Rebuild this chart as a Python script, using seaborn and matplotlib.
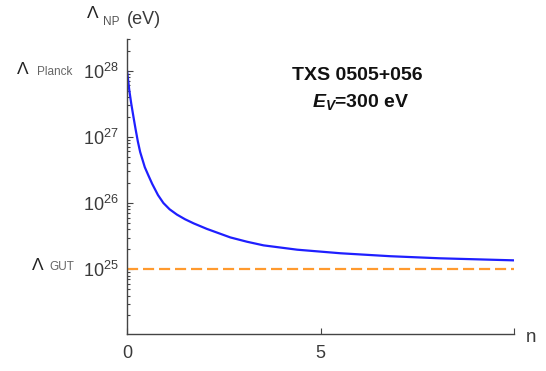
import matplotlib
matplotlib.use("Agg")  # no display in the sandbox

import matplotlib.pyplot as plt
import matplotlib.ticker as mticker
import pandas as pd
import seaborn as sns

# values (n, Lambda_NP in eV)
N_VALUES = [0.0, 0.03, 0.06, 0.11, 0.17, 0.22, 0.28, 0.34, 0.46, 0.55,
            0.65, 0.80, 0.94, 1.10, 1.29, 1.50, 1.72, 2.06, 2.67, 3.10,
            3.53, 4.40, 5.52, 6.81, 8.10, 10.0]
LAMBDA_NP = [1.0e28, 7.08e27, 5.01e27, 3.16e27, 1.95e27, 1.32e27, 8.51e26,
             5.89e26, 3.47e26, 2.63e26, 1.95e26, 1.32e26, 1.0e26, 8.04e25,
             6.68e25, 5.68e25, 4.93e25, 4.07e25, 3.02e25, 2.60e25, 2.29e25,
             1.97e25, 1.74e25, 1.57e25, 1.46e25, 1.36e25]
LAMBDA_GUT = 1.0e25
X_TICKS = [0, 5, 10]
X_TICK_LABELS = ["0", "5", ""]
Y_TICKS = [1e25, 1e26, 1e27, 1e28]

sns.set_style("ticks")
plt.rcParams["font.family"] = ["Liberation Sans", "DejaVu Sans"]
plt.rcParams["mathtext.fontset"] = "custom"
plt.rcParams["mathtext.rm"] = "Liberation Sans"
plt.rcParams["mathtext.it"] = "Liberation Sans:italic:bold"

blue, orange, axis_grey, text_grey = "#1f1fff", "#ff9a2e", "#444444", "#3a3a3a"

curve = pd.DataFrame({"n": N_VALUES, "lam": LAMBDA_NP})
gut = pd.DataFrame({"n": [N_VALUES[0], N_VALUES[-1]], "lam": [LAMBDA_GUT, LAMBDA_GUT]})

W, H = 546, 371
fig = plt.figure(figsize=(W / 100, H / 100), dpi=100)
ax = fig.add_axes([127 / W, 1 - 334 / H, 387 / W, 295 / H])

sns.lineplot(data=gut, x="n", y="lam", color=orange, linewidth=1.6, ax=ax)
ax.lines[-1].set_dashes([5, 2.2])
sns.lineplot(data=curve, x="n", y="lam", color=blue, linewidth=1.6, ax=ax)

ax.set_yscale("log")
ax.set_xlim(0, 10)
ax.set_ylim(1.05e24, 3e28)
ax.set_xticks(X_TICKS)
ax.set_xticklabels(X_TICK_LABELS)
ax.set_yticks(Y_TICKS)
ax.yaxis.set_minor_locator(mticker.LogLocator(base=10, subs=range(2, 10)))
ax.yaxis.set_minor_formatter(mticker.NullFormatter())
ax.set_xlabel("")
ax.set_ylabel("")

for side in ["top", "right"]:
    ax.spines[side].set_visible(False)
for side in ["left", "bottom"]:
    ax.spines[side].set_color(axis_grey)
    ax.spines[side].set_linewidth(1.0)
ax.tick_params(which="both", direction="in", colors=axis_grey,
               labelcolor=text_grey, labelsize=13, width=0.8)
ax.tick_params(which="major", length=4, pad=6)
ax.tick_params(which="minor", length=2)
ax.tick_params(axis="x", pad=8)


def label(x, y, s, size, color=text_grey, **kw):
    # place text by pixel position (baseline) like the original figure
    fig.text(x / W, 1 - y / H, s, fontsize=size, color=color,
             ha="left", va="baseline", **kw)


# axis names at the axis ends
label(87, 18, "Λ", 12.5, "#222222")
label(103, 25, "NP", 8.5, "#555555")
label(127, 24, "(eV)", 13)
label(526, 342, "n", 13.5)

# scale names next to the tick labels
label(17, 74, "Λ", 12.5, "#222222")
label(37, 75, "Planck", 8.5, "#666666")
label(32, 270, "Λ", 12.5, "#222222")
label(49, 270, "GUT", 8.5, "#666666")

label(292, 80, "TXS 0505+056", 14, "#111111", fontweight="bold")
label(312, 107, r"$E_V$=300 eV", 14, "#111111", fontweight="bold")

fig.savefig("out.png", dpi=100)
plt.close(fig)
